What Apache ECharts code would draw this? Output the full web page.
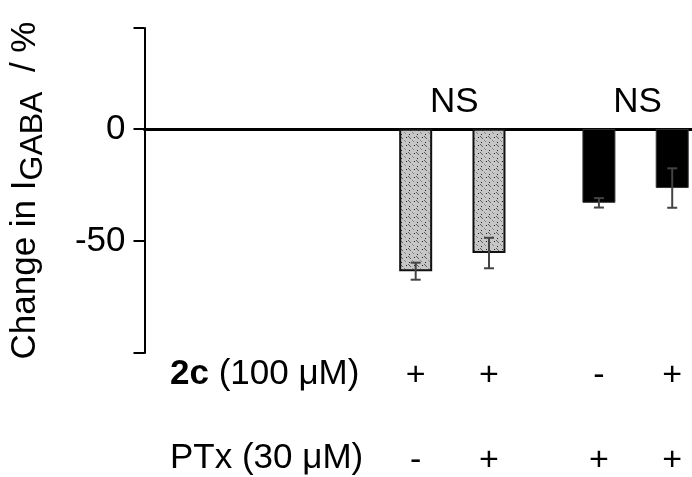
<!DOCTYPE html>
<html>
<head>
<meta charset="utf-8">
<script src="https://cdn.jsdelivr.net/npm/echarts@6/dist/echarts.min.js"></script>
<style>
  html, body { margin: 0; background: #fff; }
  #chart { width: 692px; height: 477px; }
</style>
</head>
<body>
<div id="chart"></div>
<script>
  // data
  const barPos = [0, 1, 2.5, 3.5]
  const barValues = [-63.5, -55.4, -33.0, -26.4]
  const barErrors = [3.8, 6.8, 2.1, 8.8]
  const barKinds = ['hatch', 'hatch', 'solid', 'solid']
  const treat2c = ['+', '+', '-', '+']
  const treatPTx = ['-', '+', '+', '+']
  const nsLabels = ['NS', 'NS']
  const nsPos = [0.5, 3.0]
  const yShownLabels = [0, -50]

  const FONT = '"Liberation Sans", Arial, sans-serif'

  function hatchPattern() {
    const c = document.createElement('canvas')
    c.width = 8
    c.height = 8
    const g = c.getContext('2d')
    g.fillStyle = '#c6c6c6'
    g.fillRect(0, 0, 8, 8)
    g.fillStyle = '#5e5e5e'
    ;[[0, 0], [1, 1], [2, 2]].forEach(p => g.fillRect(p[0], p[1], 1, 1))
    g.fillStyle = '#8a8a8a'
    ;[[4, 4], [5, 5]].forEach(p => g.fillRect(p[0], p[1], 1, 1))
    g.fillStyle = '#222'
    ;[[6, 1], [1, 6]].forEach(p => g.fillRect(p[0], p[1], 1, 1))
    return c
  }
  const hatch = hatchPattern()

  const chart = echarts.init(document.getElementById('chart'))

  chart.setOption({
    animation: false,
    backgroundColor: '#fff',
    grid: { left: 143, right: 0, top: 28, bottom: 124 },
    xAxis: {
      type: 'value',
      min: -3.7,
      max: 3.77,
      splitLine: { show: false },
      axisTick: { show: false },
      axisLabel: { show: false },
      axisLine: { onZero: true, lineStyle: { color: '#000', width: 3 } }
    },
    yAxis: {
      type: 'value',
      min: -100,
      max: 45,
      interval: 50,
      splitLine: { show: false },
      axisLine: { onZero: false, lineStyle: { color: '#000', width: 2 } },
      axisTick: { length: 11, lineStyle: { color: '#000', width: 2 } },
      axisLabel: {
        margin: 19,
        fontSize: 35,
        color: '#000',
        fontFamily: FONT,
        formatter: v => (yShownLabels.indexOf(v) >= 0 ? String(v) : '')
      },
      name: '{a|Change in I}{s|GABA}{a|  / %}',
      nameLocation: 'middle',
      nameGap: 95,
      nameTextStyle: {
        rich: {
          a: { fontSize: 35, fontFamily: FONT, color: '#000' },
          s: { fontSize: 32, fontFamily: FONT, color: '#000', padding: [16, 0, 0, 0] }
        }
      }
    },
    series: [
      {
        type: 'bar',
        barWidth: 33,
        z: 1,
        data: barPos.map((x, i) => ({
          value: [x, barValues[i]],
          itemStyle: barKinds[i] === 'hatch'
            ? { color: { image: hatch, repeat: 'repeat' }, borderColor: '#111', borderWidth: 2 }
            : { color: '#000', borderColor: '#333', borderWidth: 1 }
        }))
      },
      {
        type: 'custom',
        z: 3,
        data: barPos.map((x, i) => [x, barValues[i] - barErrors[i], barValues[i] + barErrors[i]]),
        renderItem: (params, api) => {
          const lo = api.coord([api.value(0), api.value(1)])
          const hi = api.coord([api.value(0), api.value(2)])
          const cap = 5
          const style = { stroke: '#444', lineWidth: 2 }
          return {
            type: 'group',
            children: [
              { type: 'line', shape: { x1: lo[0], y1: lo[1], x2: hi[0], y2: hi[1] }, style },
              { type: 'line', shape: { x1: lo[0] - cap, y1: lo[1], x2: lo[0] + cap, y2: lo[1] }, style },
              { type: 'line', shape: { x1: hi[0] - cap, y1: hi[1], x2: hi[0] + cap, y2: hi[1] }, style }
            ]
          }
        }
      }
    ]
  })

  // annotations placed from the axis scale
  const px = x => chart.convertToPixel({ xAxisIndex: 0 }, x)
  const textStyle = (txt, size) => ({ text: txt, fontSize: size, fontFamily: FONT, fill: '#000', align: 'center', verticalAlign: 'middle' })
  const graphics = []
  nsLabels.forEach((t, i) => {
    graphics.push({ type: 'text', x: px(nsPos[i]) + 2, y: 102, style: textStyle(t, 35) })
  })
  treat2c.forEach((t, i) => {
    graphics.push({ type: 'text', x: px(barPos[i]), y: 376, style: textStyle(t, 34) })
  })
  treatPTx.forEach((t, i) => {
    graphics.push({ type: 'text', x: px(barPos[i]), y: 461, style: textStyle(t, 34) })
  })
  graphics.push({
    type: 'text', x: 170, y: 374,
    style: {
      text: '{b|2c} (100 μM)', fontSize: 35, fontFamily: FONT, fill: '#000', verticalAlign: 'middle',
      rich: { b: { fontSize: 35, fontWeight: 'bold', fontFamily: FONT } }
    }
  })
  graphics.push({
    type: 'text', x: 170, y: 458,
    style: { text: 'PTx (30 μM)', fontSize: 35, fontFamily: FONT, fill: '#000', verticalAlign: 'middle' }
  })
  chart.setOption({ graphic: graphics })
</script>
</body>
</html>
